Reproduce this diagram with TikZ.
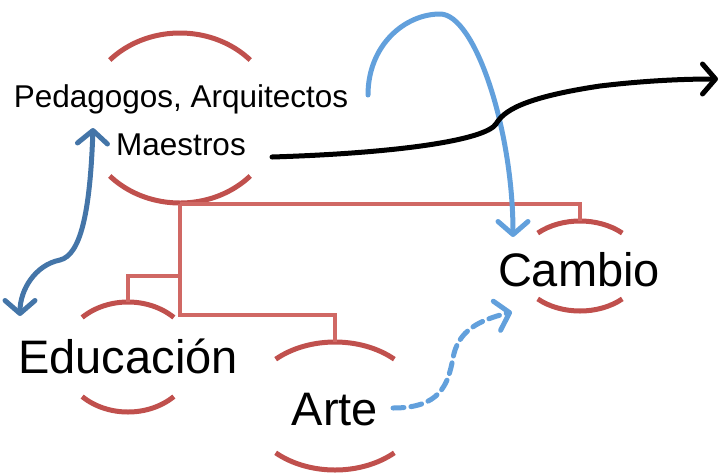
\documentclass[tikz,border=0pt]{standalone}
\usepackage{fontspec}
\setmainfont{Liberation Sans}
\usepackage{xcolor}
\usepackage{tikz}
\usetikzlibrary{arrows.meta}
\definecolor{ringred}{RGB}{192,80,77}
\definecolor{linkred}{RGB}{208,104,100}
\definecolor{skyblue}{RGB}{98,160,220}
\definecolor{steelblue}{RGB}{68,117,168}
\tikzset{
  concept/.style = {inner sep=0pt, align=center,
    font=\fontsize{31.5}{48}\selectfont},% nodo superior
  leaf/.style = {inner sep=0pt, anchor=base,
    font=\fontsize{47}{56}\selectfont},% nodos de abajo
  ring/.style = {draw=ringred, line width=5pt},% arcos del circulo
  link/.style = {draw=linkred, line width=4.5pt},% lineas de jerarquia
  flow/.style = {line width=5pt, line cap=round,
    >={Straight Barb[length=13pt,width=30pt,round]}}% flechas
}

\begin{document}
\begin{tikzpicture}[x=1pt,y=-1pt]
\useasboundingbox (0,0) rectangle (720,475);
% centros de los circulos
\coordinate (ped-c) at (180,118);
\coordinate (edu-c) at (128,357);
\coordinate (art-c) at (335,406);
\coordinate (cam-c) at (580,266);
% textos
\node [concept] (ped) at (181,120) {Pedagogos, Arquitectos\\Maestros};
\node [leaf] (edu) at (128,373) {Educación};
\node [leaf] (art) at (335,425) {Arte};
\node [leaf] (cam) at (579,286) {Cambio};
% arcos arriba y abajo
\draw [ring] (ped-c) ++(-137:96 and 85) arc[start angle=-137, end angle=-43, x radius=96, y radius=85];
\draw [ring] (ped-c) ++(43:96 and 85) arc[start angle=43, end angle=137, x radius=96, y radius=85];
\draw [ring] (edu-c) ++(-134:66 and 55) arc[start angle=-134, end angle=-46, x radius=66, y radius=55];
\draw [ring] (edu-c) ++(46:66 and 55) arc[start angle=46, end angle=134, x radius=66, y radius=55];
\draw [ring] (art-c) ++(-133:87 and 64) arc[start angle=-133, end angle=-47, x radius=87, y radius=64];
\draw [ring] (art-c) ++(47:87 and 64) arc[start angle=47, end angle=133, x radius=87, y radius=64];
\draw [ring] (cam-c) ++(-133:62 and 45) arc[start angle=-133, end angle=-47, x radius=62, y radius=45];
\draw [ring] (cam-c) ++(47:62 and 45) arc[start angle=47, end angle=133, x radius=62, y radius=45];
% jerarquia
\coordinate (ped-bot) at (180,204);
\coordinate (edu-top) at (128,302);
\coordinate (art-top) at (335,342);
\coordinate (cam-top) at (580,221);
\coordinate (edu-joint) at (180,276);
\coordinate (art-joint) at (180,315);
\draw [link] (ped-bot) -| (cam-top);
\draw [link] (ped-bot) -- (art-joint) -| (art-top);
\draw [link] (edu-joint) -| (edu-top);
% flechas
\coordinate (up-tip) at (93,128);
\coordinate (down-tip) at (20,316);
\coordinate (hop-start) at (368,95);
\coordinate (hop-end) at (513,237);
\coordinate (out-start) at (272,157);
\coordinate (out-end) at (718,79);
\coordinate (dash-start) at (393,408);
\coordinate (dash-end) at (512,312);
\draw [flow, steelblue, <->] (up-tip) .. controls (90,215) and (80,255) .. (60,260)
  .. controls (35,265) and (20,290) .. (down-tip);
\draw [flow, skyblue, ->] (hop-start) .. controls (368,45) and (405,14) .. (440,14)
  .. controls (475,14) and (513,130) .. (hop-end);
\draw [flow, black, ->] (out-start) .. controls (400,153) and (485,140) .. (496,124)
  .. controls (503,112) and (520,98) .. (600,86)
  .. controls (650,80) and (690,79) .. (out-end);
\draw [flow, skyblue, ->, dash pattern=on 11pt off 7pt] (dash-start)
  .. controls (440,408) and (448,385) .. (453,358)
  .. controls (458,330) and (480,320) .. (dash-end);
\end{tikzpicture}
\end{document}
